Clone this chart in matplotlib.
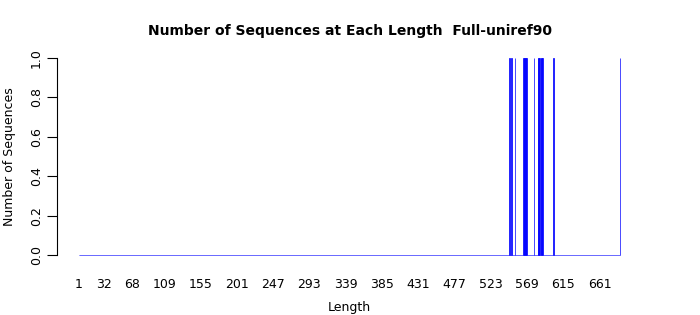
import matplotlib
matplotlib.use("Agg")
import matplotlib.pyplot as plt
import numpy as np

MAX_LEN = 687
HIT_LENGTHS = [547, 549, 554, 565, 566, 567, 568, 578, 583, 584, 585, 587, 588, 589, 603, 687]
TICK_LABELS = [1, 32, 68, 109, 155, 201, 247, 293, 339, 385, 431, 477, 523, 569, 615, 661]

lengths = np.arange(1, MAX_LEN + 1)
counts = np.zeros(MAX_LEN)
for L in HIT_LENGTHS:
    counts[L - 1] += 1

fig = plt.figure(figsize=(7, 3.15), dpi=100)
ax = fig.add_axes([57 / 700, 52 / 315, 585 / 700, 213 / 315])

ax.bar(lengths, counts, width=1, color="blue", edgecolor="blue", linewidth=0.5)

pad = 0.04 * MAX_LEN
ax.set_xlim(0.5 - pad, MAX_LEN + 0.5 + pad)
ax.set_ylim(-0.04, 1.04)

for s in ("top", "right", "bottom"):
    ax.spines[s].set_visible(False)
ax.spines["left"].set_bounds(0, 1)
ax.spines["left"].set_linewidth(0.8)

ax.set_yticks([0, 0.2, 0.4, 0.6, 0.8, 1.0])
ax.set_yticklabels(["0.0", "0.2", "0.4", "0.6", "0.8", "1.0"], rotation=90, va="center", fontsize=9)
ax.tick_params(axis="y", length=7, width=0.8, pad=3)

ax.set_xticks(TICK_LABELS)
ax.set_xticklabels([str(t) for t in TICK_LABELS], fontsize=9)
ax.tick_params(axis="x", length=0, pad=11)

ax.set_xlabel("Length", fontsize=9, labelpad=7)
ax.set_ylabel("Number of Sequences", fontsize=9, labelpad=10)
ax.set_title("Number of Sequences at Each Length  Full-uniref90", fontsize=10, fontweight="bold", pad=11)

fig.savefig("out.png", dpi=100)
